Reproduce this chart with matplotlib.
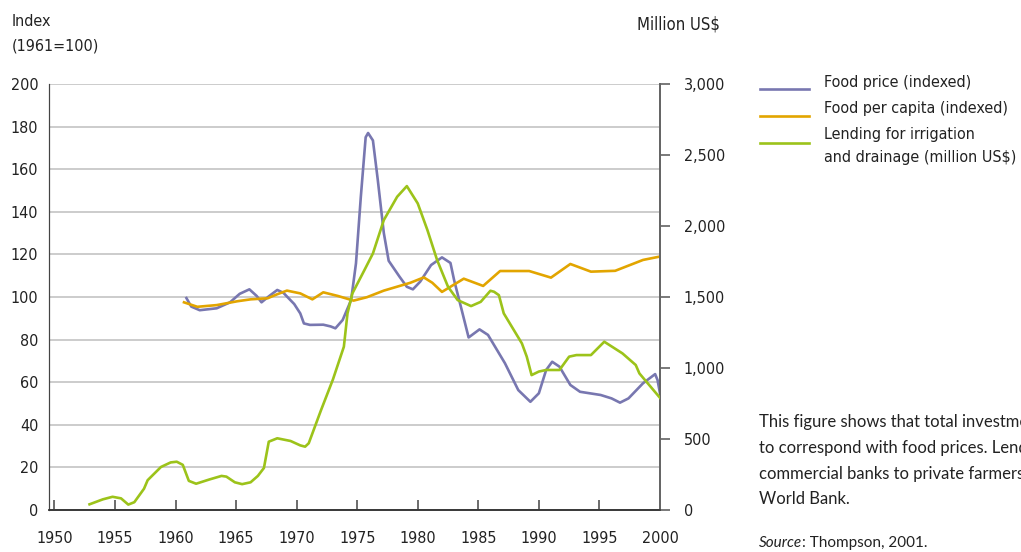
import matplotlib
matplotlib.use("Agg")
from matplotlib import pyplot as plt
from matplotlib.lines import Line2D
from matplotlib.ticker import FuncFormatter

# --- dati ---
anni_prezzo = [1960.9, 1961.3, 1962.0, 1963.4, 1964.5, 1965.3, 1966.1, 1966.7, 1967.1,
               1967.7, 1968.4, 1968.9, 1969.8, 1970.3, 1970.6, 1971.1, 1972.2, 1972.8,
               1973.2, 1973.8, 1974.5, 1974.9, 1975.3, 1975.7, 1975.9, 1976.3, 1976.7,
               1977.2, 1977.6, 1978.5, 1979.1, 1979.6, 1980.2, 1981.1, 1982.0, 1982.7,
               1983.0, 1983.7, 1984.2, 1985.1, 1985.8, 1987.2, 1988.3, 1989.3, 1990.0,
               1990.6, 1991.1, 1991.7, 1992.6, 1993.4, 1995.1, 1996.0, 1996.7, 1997.4,
               1998.6, 1999.6, 1999.8, 2000.0]
prezzo_cibo = [99.5, 95.5, 93.8, 94.7, 97.5, 101.5, 103.6, 100.5, 97.5,
               100.3, 103.3, 102.0, 96.7, 92.3, 87.6, 86.9, 87.0, 86.2,
               85.3, 89.2, 98.6, 115.8, 147, 175, 177, 173.5, 155,
               130, 117, 109.5, 104.8, 103.6, 107.2, 115, 118.6, 116,
               108, 92.3, 81, 84.8, 82.2, 68.9, 56.3, 50.8, 54.8,
               65.7, 69.6, 67.3, 58.7, 55.5, 54, 52.4, 50.4, 52.4,
               59.5, 63.8, 61, 54.8]

anni_procapite = [1960.7, 1961.8, 1963.4, 1965.1, 1966.2, 1967.6, 1968.4, 1969.2, 1970.3,
                  1971.3, 1972.2, 1973.4, 1974.7, 1975.8, 1977.2, 1979.4, 1980.5, 1981.2,
                  1982.0, 1983.8, 1985.4, 1986.8, 1989.2, 1991.0, 1992.6, 1994.3, 1996.3,
                  1998.6, 2000.0]
cibo_procapite = [97.5, 95.4, 96.2, 98, 98.9, 99.4, 101.3, 103, 101.7,
                  98.9, 102.2, 100.5, 98.3, 99.9, 103, 106.7, 109.2, 106.7,
                  102.4, 108.6, 105.2, 112.2, 112.2, 109.1, 115.5, 111.9, 112.3,
                  117.4, 119]

anni_prestiti = [1952.9, 1954.0, 1954.8, 1955.5, 1956.1, 1956.6, 1957.4, 1957.7, 1958.8,
                 1959.6, 1960.1, 1960.6, 1961.1, 1961.7, 1962.8, 1963.8, 1964.2, 1964.9,
                 1965.5, 1966.2, 1966.8, 1967.3, 1967.7, 1968.4, 1969.5, 1970.3, 1970.7,
                 1971.0, 1972.0, 1973.0, 1973.9, 1974.2, 1974.6, 1975.6, 1976.3, 1977.2,
                 1978.3, 1979.1, 1980.0, 1980.8, 1981.6, 1982.5, 1983.3, 1984.4, 1985.2,
                 1986.0, 1986.3, 1986.7, 1987.1, 1988.6, 1989.0, 1989.4, 1990.0, 1990.6,
                 1991.7, 1992.5, 1993.1, 1994.3, 1995.4, 1996.9, 1998.0, 1998.3, 2000.0]
prestiti_irrigazione = [40, 75, 93, 82, 38, 55, 150, 210, 303,
                        335, 340, 318, 205, 185, 215, 240, 235, 195,
                        182, 195, 240, 296, 481, 505, 486, 455, 446,
                        470, 700, 920, 1150, 1385, 1525, 1690, 1807, 2042,
                        2206, 2281, 2159, 1971, 1760, 1572, 1478, 1436, 1466,
                        1544, 1537, 1513, 1385, 1173, 1080, 950, 975, 986,
                        986, 1080, 1091, 1091, 1185, 1103, 1021, 962, 790]

tick_anni = list(range(1950, 2001, 5))
tick_indice = list(range(0, 201, 20))
tick_milioni = list(range(0, 3001, 500))

viola = "#7877b0"
arancio = "#e2a500"
verde = "#9cc31a"
testo = "#222222"

plt.rcParams['font.family'] = ['DejaVu Sans']
plt.rcParams['font.stretch'] = 'condensed'
fs = 11.5

fig = plt.figure(figsize=(10.21, 5.52), dpi=100)
ax = fig.add_axes([0.0483, 0.0761, 0.5981, 0.7717])
ax2 = ax.twinx()

ax.plot(anni_prezzo, prezzo_cibo, color=viola, lw=1.9, zorder=3)
ax.plot(anni_procapite, cibo_procapite, color=arancio, lw=1.9, zorder=3)
ax2.plot(anni_prestiti, prestiti_irrigazione, color=verde, lw=1.9, zorder=3)

ax.set_xlim(1949.58, 2000)
ax.set_ylim(0, 200)
ax2.set_ylim(0, 3000)

ax.set_xticks(tick_anni)
ax.set_yticks(tick_indice)
ax2.set_yticks(tick_milioni)
ax2.yaxis.set_major_formatter(FuncFormatter(lambda v, p: f"{int(v):,}"))

ax.grid(axis="y", color="#c8c8c8", lw=1.3)
ax.set_axisbelow(True)

ax.tick_params(axis="x", direction="in", length=7, width=1.1, color="#444444",
               pad=15, labelsize=fs, labelcolor=testo)
ax.tick_params(axis="y", length=0, pad=8, labelsize=fs, labelcolor=testo)
ax2.tick_params(axis="y", direction="out", length=7, width=1.1, color="#555555",
                pad=10, labelsize=fs, labelcolor=testo)

for a in (ax, ax2):
    a.spines["top"].set_visible(False)
    a.spines["left"].set_color("#444444")
    a.spines["left"].set_linewidth(0.8)
    a.spines["bottom"].set_color("#333333")
    a.spines["bottom"].set_linewidth(1.1)
    a.spines["right"].set_color("#666666")
    a.spines["right"].set_linewidth(1.4)

# titoli degli assi
fig.text(12 / 1021, 1 - 22 / 552, "Index", fontsize=fs, color=testo, va="center")
fig.text(12 / 1021, 1 - 46 / 552, "(1961=100)", fontsize=fs, color=testo, va="center")
fig.text(637 / 1021, 1 - 24 / 552, "Million US$", fontsize=12, color=testo, va="center")

# legenda
voci = [(viola, 89, 83, "Food price (indexed)"),
        (arancio, 116, 109, "Food per capita (indexed)"),
        (verde, 143, 134, "Lending for irrigation"),
        (None, None, 158, "and drainage (million US$)")]
for colore, y_linea, y_testo, etichetta in voci:
    if colore is not None:
        fig.add_artist(Line2D([760 / 1021, 809 / 1021],
                              [1 - y_linea / 552, 1 - y_linea / 552],
                              color=colore, lw=1.9, transform=fig.transFigure))
    fig.text(824 / 1021, 1 - y_testo / 552, etichetta, fontsize=fs, color=testo,
             va="center")

# nota a margine, tagliata dal bordo destro
nota = dict(fontsize=12, family=["Lato", "DejaVu Sans"], stretch="normal",
            color=testo, va="center")
righe = ["This figure shows that total investment",
         "to correspond with food prices. Lending",
         "commercial banks to private farmers",
         "World Bank."]
for i, riga in enumerate(righe):
    fig.text(759 / 1021, 1 - (422 + i * 25.8) / 552, riga, **nota)

fonte = fig.text(759 / 1021, 1 - 543 / 552, "Source", style="italic",
                 **dict(nota, fontsize=11))
fig.canvas.draw()
bb = fonte.get_window_extent()
fig.text(bb.x1 / 1021, 1 - 543 / 552, ": Thompson, 2001.", **dict(nota, fontsize=11))

fig.savefig("out.png", dpi=100)
